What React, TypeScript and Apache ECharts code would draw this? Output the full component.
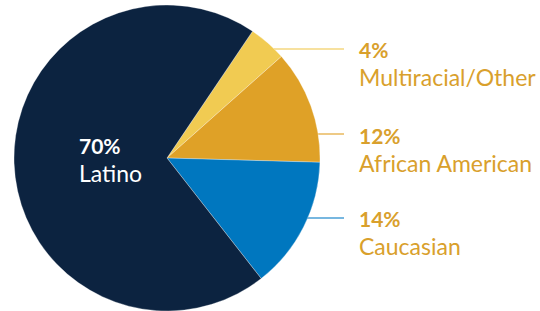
import React, { useEffect, useRef } from "react";
import * as echarts from "echarts";

const categories = ["Multiracial/Other", "African American", "Caucasian", "Latino"];
const values = [4, 12, 14, 70];
const colors = ["#F1CB52", "#DFA127", "#0077BF", "#0C2340"];
const lineColors = ["#F4D77F", "#E8B95E", "#4A9FD6", "#0C2340"];

// label layout (positions only)
const CX = 167, CY = 158, R = 153;
const labelTops = [36, 122, 205, 132];
const lineYs = [49, 134, 218, 0];
const LINE_END = 344;
const TEXT_X = 359;

export default function App() {
  const ref = useRef<HTMLDivElement>(null);
  useEffect(() => {
    const chart = echarts.init(ref.current!, null, { renderer: "svg" });
    const font = "Lato, 'Noto Sans', sans-serif";
    const pfs = 21;
    const nfs = 23;
    chart.setOption({
      animation: false,
      series: [
        {
          type: "pie",
          center: [CX, CY],
          radius: [0, R],
          startAngle: 56,
          clockwise: true,
          avoidLabelOverlap: false,
          itemStyle: { borderColor: "rgba(255,255,255,0.6)", borderWidth: 0.5 },
          label: {
            show: true,
            formatter: "{p|{c}%}\n{n|{b}}",
            rich: {
              p: { fontFamily: font, fontWeight: "bold", fontSize: pfs, lineHeight: 27, color: "#D9A02C" },
              n: { fontFamily: font, fontSize: nfs, lineHeight: 27, color: "#D9A02C" },
            },
          },
          labelLine: { show: true, lineStyle: { width: 1.5 } },
          labelLayout: (params: any) => {
            const i = params.dataIndex;
            if (i === 3) {
              return { x: 79, y: labelTops[i], align: "left", verticalAlign: "top" };
            }
            const ly = lineYs[i];
            const dy = ly - CY;
            const ex = CX + Math.sqrt(R * R - dy * dy) - 1;
            return {
              x: TEXT_X,
              y: labelTops[i],
              align: "left",
              verticalAlign: "top",
              labelLinePoints: [[ex, ly], [LINE_END, ly], [LINE_END, ly]],
            };
          },
          data: categories.map((c, i) => ({
            name: c,
            value: values[i],
            itemStyle: { color: colors[i] },
            labelLine: { show: i !== 3, lineStyle: { color: lineColors[i] } },
            label:
              i === 3
                ? {
                    position: "inside",
                    rich: {
                      p: { fontFamily: font, fontWeight: "bold", fontSize: pfs, lineHeight: 27, color: "#ffffff" },
                      n: { fontFamily: font, fontSize: nfs, lineHeight: 27, color: "#ffffff" },
                    },
                  }
                : { position: "outside" },
          })),
        },
      ],
    });
    return () => chart.dispose();
  }, []);
  return <div ref={ref} style={{ width: 540, height: 311, position: "absolute", left: 0, top: 0 }} />;
}
